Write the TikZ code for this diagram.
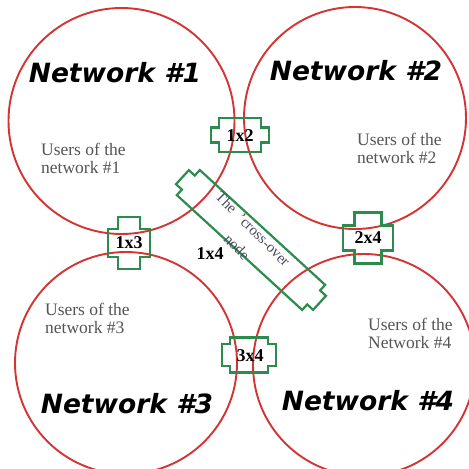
\documentclass[tikz,border=0pt]{standalone}
\usepackage{fontspec}
\setmainfont{Liberation Serif}
\newfontfamily\titlefont{DejaVu Sans}
\definecolor{netred}{HTML}{D43434}
\definecolor{conngreen}{HTML}{2E8B4E}
\definecolor{usergray}{HTML}{555555}
\definecolor{crossgray}{HTML}{4A4A5E}
\newcommand{\connbox}[8]{%
  \begin{scope}[shift={(#2,#3)},rotate=#4]
    \draw[conn] ({-#5/2-#7},{-#8/2}) -- ({-#5/2-#7},{#8/2}) -- ({-#5/2},{#8/2}) -- ({-#5/2},{#6/2})
      -- ({#5/2},{#6/2}) -- ({#5/2},{#8/2}) -- ({#5/2+#7},{#8/2}) -- ({#5/2+#7},{-#8/2})
      -- ({#5/2},{-#8/2}) -- ({#5/2},{-#6/2}) -- ({-#5/2},{-#6/2}) -- ({-#5/2},{-#8/2}) -- cycle;
    \coordinate (#1) at (0,0);
  \end{scope}}
\begin{document}
\begin{tikzpicture}[x=1pt,y=-1pt,
  net/.style={circle,draw=netred,line width=1.9pt,minimum size=#1,inner sep=0pt},
  conn/.style={draw=conngreen,line width=2.2pt,line join=miter},
  title/.style={font=\titlefont\bfseries\itshape\fontsize{26.5}{30}\selectfont,anchor=base,inner sep=0pt},
  users/.style={font=\fontsize{17.5}{18}\selectfont,text=usergray,align=left,anchor=north west,inner sep=0pt},
  lab/.style={font=\bfseries\fontsize{18}{20}\selectfont,inner sep=0pt},
  crosstext/.style={font=\fontsize{15}{17}\selectfont,text=crossgray,inner sep=0pt,rotate=-45}
]
\useasboundingbox (0,0) rectangle (469,469);
\clip (0,0) rectangle (469,469);
\fill[white] (0,0) rectangle (469,469);
% networks
\node[net=226pt] (n1) at (121.5,121) {};
\node[net=222pt] (n2) at (355,118) {};
\node[net=222pt] (n3) at (126,363) {};
\node[net=222pt] (n4) at (364,365) {};
% connectors
\connbox{c12}{240}{135}{0}{42}{34}{8}{15}
\connbox{c13}{129}{243}{90}{28}{42}{12}{22}
\connbox{c24}{368}{238}{90}{25}{50}{13}{27}
\connbox{c34}{249}{355}{0}{38}{35}{8}{22}
\connbox{c14}{251}{240}{-42.5}{170}{34}{8}{19}
% labels
\node[lab] (l12) at (240,136) {1x2};
\node[lab] (l13) at (c13) {1x3};
\node[lab] (l24) at (c24) {2x4};
\node[lab] (l34) at (250,356) {3x4};
\node[lab] (l14) at (210,254) {1x4};
\node[crosstext] (ct1) at (253,229) {The \ 'cross-over};
\node[crosstext] (ct2) at (237,247) {node};
% titles
\node[title] (t1) at (115,82) {Network \#1};
\node[title] (t2) at (356,80) {Network \#2};
\node[title] (t3) at (127,413) {Network \#3};
\node[title] (t4) at (368,410) {Network \#4};
% users
\node[users] (u1) at (41,143) {Users of the\\network \#1};
\node[users] (u2) at (357,133) {Users of the\\network \#2};
\node[users] (u3) at (45,303) {Users of the\\network \#3};
\node[users] (u4) at (368,318) {Users of the\\Network \#4};
\end{tikzpicture}
\end{document}
